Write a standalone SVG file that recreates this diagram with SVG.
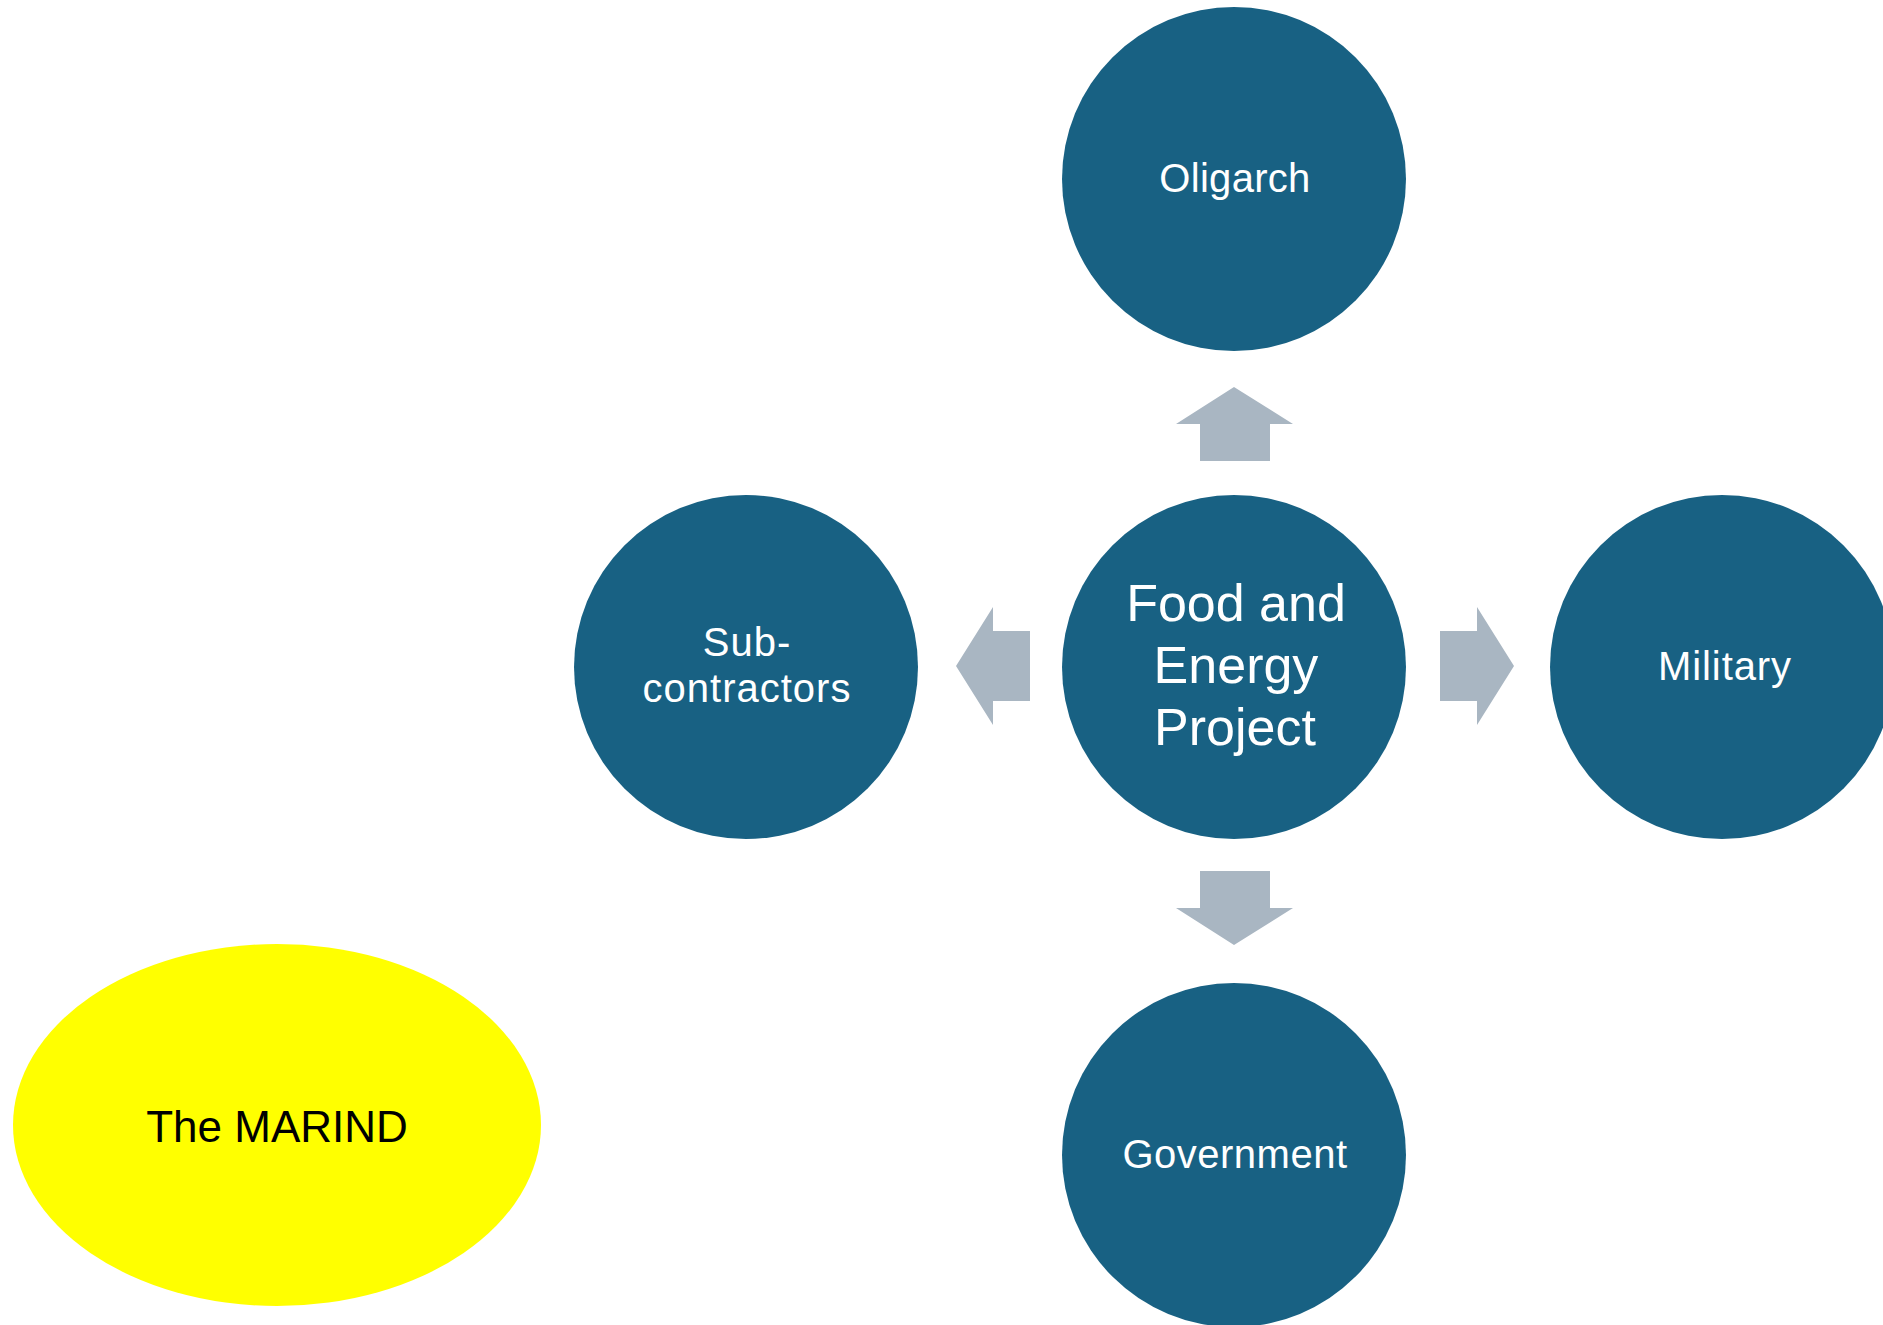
<svg xmlns="http://www.w3.org/2000/svg" width="1883" height="1325" viewBox="0 0 1883 1325">
  <style>
    .node { fill: #186183; }
    .lbl { font-family: "Liberation Sans", Arial, sans-serif; fill: #ffffff; text-anchor: middle; }
    .arrow { fill: #A9B6C2; }
    .marind { fill: #FFFF00; }
    .marind-lbl { font-family: "Liberation Sans", Arial, sans-serif; fill: #000000; text-anchor: middle; font-size: 44px; }
  </style>
  <rect width="1883" height="1325" fill="#ffffff"/>

  <!-- connectors: block arrows radiating from the project -->
  <g id="connectors">
    <polygon class="arrow" points="1234,387 1293,424 1270,424 1270,461 1200,461 1200,424 1176,424"/>
    <polygon class="arrow" points="1200,871 1270,871 1270,908 1293,908 1234,945 1176,908 1200,908"/>
    <polygon class="arrow" points="956,666 993,607 993,631 1030,631 1030,701 993,701 993,725"/>
    <polygon class="arrow" points="1514,666 1477,607 1477,631 1440,631 1440,701 1477,701 1477,725"/>
  </g>

  <g id="project">
    <circle class="node" cx="1234" cy="667" r="172"/>
    <text class="lbl" font-size="52"><tspan x="1236" y="621">Food and</tspan><tspan x="1236" y="683">Energy</tspan><tspan x="1235" y="745">Project</tspan></text>
  </g>

  <g id="oligarch">
    <circle class="node" cx="1234" cy="179" r="172"/>
    <text class="lbl" x="1235" y="192" font-size="40" letter-spacing="0.3">Oligarch</text>
  </g>

  <g id="subcontractors">
    <circle class="node" cx="746" cy="667" r="172"/>
    <text class="lbl" font-size="40" letter-spacing="1"><tspan x="747" y="656">Sub-</tspan><tspan x="747" y="702">contractors</tspan></text>
  </g>

  <g id="military">
    <circle class="node" cx="1722" cy="667" r="172"/>
    <text class="lbl" x="1725" y="680" font-size="40" letter-spacing="0.9">Military</text>
  </g>

  <g id="government">
    <circle class="node" cx="1234" cy="1155" r="172"/>
    <text class="lbl" x="1235" y="1168" font-size="40" letter-spacing="0.5">Government</text>
  </g>

  <g id="the-marind">
    <ellipse class="marind" cx="277" cy="1125" rx="264" ry="181"/>
    <text class="marind-lbl" x="277" y="1142">The MARIND</text>
  </g>
</svg>
